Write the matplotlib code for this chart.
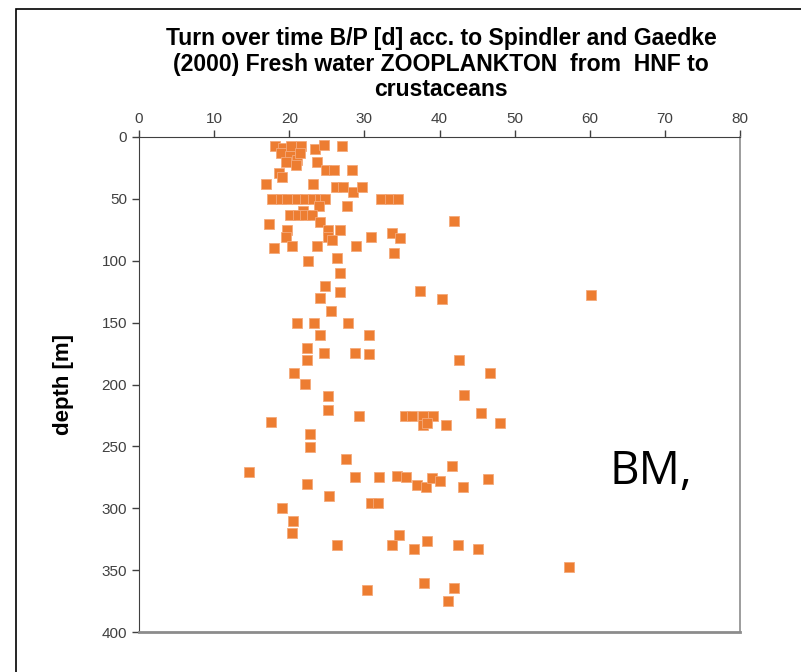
import matplotlib
matplotlib.use("Agg")
import matplotlib.pyplot as plt
from matplotlib.patches import Rectangle

# turnover time B/P [d] against depth [m]
turnover = [
    18.1, 19.2, 20.2, 18.9, 20.1, 19.6, 21.0, 21.6, 21.4, 20.9,
    23.4, 24.6, 27.0, 23.7, 24.9, 26.0, 28.3, 18.6, 19.0, 16.9,
    23.2, 26.2, 27.2, 28.5, 29.7,
    17.7, 18.9, 19.7, 21.0, 22.1, 23.2, 24.1, 24.8, 32.2, 33.4, 34.5,
    24.0, 27.7, 21.8, 20.1, 21.1, 22.1, 23.0, 24.1, 17.3, 41.9,
    19.7, 19.6, 25.2, 26.7, 25.2, 25.7, 30.9, 33.7, 34.7,
    18.0, 20.3, 23.7, 28.9, 33.9, 22.5, 26.4, 26.7,
    24.8, 26.7, 37.4, 60.2, 24.1, 40.3, 25.5,
    21.0, 23.3, 27.8, 24.1, 30.6, 22.4, 24.6, 28.8, 30.6, 22.4, 42.6,
    20.6, 46.7, 22.1, 25.1, 43.3, 25.1, 17.6, 29.3,
    35.4, 36.4, 37.8, 39.2, 37.8, 38.4, 40.9, 45.5, 48.1,
    22.7, 22.8, 27.5, 41.6, 14.7, 28.8, 32.0, 34.4, 35.6, 37.0,
    38.2, 39.0, 40.0, 43.1, 46.5, 22.3, 25.3, 30.9, 31.8, 19.1, 20.5,
    20.4, 26.4, 33.7, 34.6, 36.6, 38.4, 42.5, 45.1, 57.3,
    30.3, 38.0, 41.9, 41.1,
]
depth = [
    7.3, 8.9, 7.3, 12.9, 15.4, 20.2, 18.6, 7.3, 12.9, 22.6,
    9.7, 6.5, 7.3, 20.2, 26.7, 26.7, 26.7, 29.0, 32.0, 38.0,
    38.0, 40.4, 40.4, 44.4, 40.4,
    50.0, 50.0, 50.0, 50.0, 50.0, 50.0, 50.0, 50.0, 50.0, 50.0, 50.0,
    55.8, 56.0, 59.5, 63.0, 63.0, 63.0, 63.0, 68.4, 70.3, 68.0,
    75.0, 81.0, 75.0, 75.0, 80.5, 83.0, 80.5, 77.8, 82.0,
    90.0, 88.0, 88.0, 88.0, 94.0, 100.0, 98.0, 110.0,
    120.4, 125.0, 124.4, 127.7, 130.4, 131.0, 140.4,
    150.0, 150.0, 150.0, 160.0, 160.0, 170.8, 174.8, 174.3, 175.0, 180.0, 180.0,
    190.4, 190.7, 199.9, 209.5, 208.5, 220.6, 230.6, 225.2,
    225.2, 225.2, 225.2, 225.2, 232.7, 231.4, 232.7, 223.3, 230.8,
    240.3, 250.3, 260.0, 265.9, 270.4, 275.0, 275.0, 273.7, 275.0, 281.0,
    282.6, 275.8, 278.0, 282.6, 276.6, 280.4, 290.0, 295.5, 295.5, 300.0, 310.0,
    320.0, 330.0, 330.0, 322.0, 332.7, 326.5, 329.4, 332.7, 347.7,
    366.0, 360.7, 364.4, 375.0,
]

x_ticks = [0, 10, 20, 30, 40, 50, 60, 70, 80]
y_ticks = [0, 50, 100, 150, 200, 250, 300, 350, 400]

ORANJE = "#ED7D31"
SANS = ["Liberation Sans", "DejaVu Sans"]

fig = plt.figure(figsize=(8.01, 6.72), dpi=100)
ax = fig.add_axes([139 / 801, 1 - 632 / 672, 601 / 801, 495 / 672])

ax.plot(turnover, depth, "s", color=ORANJE, markersize=6.5,
        markeredgecolor="#F4A97A", markeredgewidth=0.6, clip_on=False)

ax.set_xlim(0, 80)
ax.set_ylim(400, 0)
ax.set_xticks(x_ticks)
ax.set_yticks(y_ticks)
ax.xaxis.tick_top()
ax.tick_params(axis="both", direction="out", length=5, width=1,
               color="#404040", labelsize=11, labelcolor="#404040")
ax.tick_params(axis="x", pad=3)
for lbl in ax.get_xticklabels() + ax.get_yticklabels():
    lbl.set_family(SANS)

ax.spines["top"].set_color("#404040")
ax.spines["left"].set_color("#404040")
ax.spines["right"].set_color("#8C8C8C")
ax.spines["bottom"].set_color("#8C8C8C")
ax.spines["bottom"].set_linewidth(2)
ax.spines["right"].set_linewidth(1.2)

ax.set_ylabel("depth [m]", fontsize=16, fontweight="bold", family=SANS)
ax.yaxis.set_label_coords(-0.108, 0.5)

fig.text(441 / 801, 1 - 64 / 672,
         "Turn over time B/P [d] acc. to Spindler and Gaedke\n"
         "(2000) Fresh water ZOOPLANKTON  from  HNF to\ncrustaceans",
         ha="center", va="center", fontsize=16.6, fontweight="bold",
         family=SANS, linespacing=1.14)

ax.text(62.6, 270.5, "BM,", fontsize=33, family=["Open Sans", "DejaVu Sans"],
        ha="left", va="center", color="black")

# kader rond de hele grafiek
fig.patches.append(Rectangle((16 / 801, -0.1), 1.0, 1 - 9 / 672 + 0.1,
                             transform=fig.transFigure, fill=False,
                             edgecolor="black", linewidth=1.2))

fig.savefig("out.png", dpi=100)
